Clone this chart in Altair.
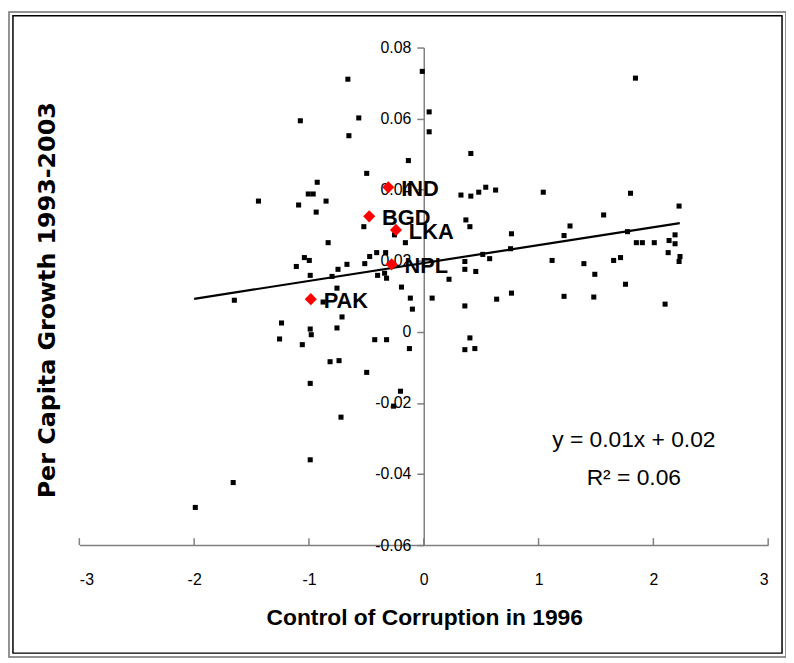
import altair as alt
import pandas as pd

# Scatter points: Control of Corruption 1996 (x) vs per capita growth 1993-2003 (y)
corr = [-1.99, -1.66, -1.65, -1.44, -1.075, -1.09, -1.006, -0.963, -1.11, -1.04,
        -0.997, -0.989, -1.239, -1.256, -1.058, -0.989, -0.980, -0.989, -0.989, -0.816,
        -0.738, -0.721, -0.497, -0.203, -0.263, -0.125, -0.427, -0.324, -0.712, -0.756,
        -0.877, -0.756, -0.194, -0.117, -0.099, -0.799, -0.402, -0.341, -0.324, -0.747,
        -0.669, -0.514, -0.471, -0.410, -0.332, -0.833, -0.160, -0.255, -0.522, -0.661,
        -0.566, -0.652, -0.134, -0.497, -0.928, -0.851, -0.937, -0.013, 0.047, 0.047,
        0.410, 0.324, 0.410, 0.479, 0.540, 0.626, 1.041, 0.367, 0.402, 0.764,
        0.756, 0.514, 0.574, 0.358, 0.358, 0.453, 0.220, 0.073, 0.635, 0.764,
        0.358, 0.402, 0.358, 0.445, 1.844, 1.801, 2.224, 1.567, 1.274, 1.222,
        1.775, 2.189, 1.852, 1.904, 2.008, 2.137, 2.189, 2.129, 2.232, 2.224,
        1.118, 1.395, 1.654, 1.714, 1.490, 1.757, 1.222, 1.481, 2.102]
growth = [-0.0494, -0.0424, 0.0089, 0.0368, 0.0594, 0.0357, 0.0388, 0.0388, 0.0184, 0.0209,
          0.0201, 0.0159, 0.0025, -0.0020, -0.0036, 0.0008, -0.0008, -0.0145, -0.0360, -0.0084,
          -0.0081, -0.0240, -0.0114, -0.0167, -0.0209, -0.0047, -0.0022, -0.0022, 0.0042, 0.0011,
          0.0084, 0.0123, 0.0126, 0.0095, 0.0064, 0.0156, 0.0159, 0.0165, 0.0151, 0.0176,
          0.0190, 0.0192, 0.0212, 0.0223, 0.0223, 0.0251, 0.0251, 0.0273, 0.0296, 0.0711,
          0.0602, 0.0552, 0.0482, 0.0446, 0.0421, 0.0368, 0.0337, 0.0733, 0.0619, 0.0563,
          0.0502, 0.0385, 0.0382, 0.0393, 0.0407, 0.0399, 0.0393, 0.0315, 0.0296, 0.0276,
          0.0234, 0.0218, 0.0206, 0.0198, 0.0176, 0.0170, 0.0148, 0.0095, 0.0092, 0.0109,
          0.0073, -0.0017, -0.0050, -0.0047, 0.0714, 0.0390, 0.0354, 0.0329, 0.0298, 0.0271,
          0.0282, 0.0273, 0.0251, 0.0251, 0.0251, 0.0257, 0.0248, 0.0223, 0.0212, 0.0198,
          0.0201, 0.0192, 0.0201, 0.0209, 0.0162, 0.0134, 0.0100, 0.0098, 0.0078]

# South Asian countries (red diamonds)
sa_codes = ["IND", "BGD", "LKA", "NPL", "PAK"]
sa_corr = [-0.309, -0.475, -0.242, -0.280, -0.984]
sa_growth = [0.0407, 0.0325, 0.0287, 0.0190, 0.0092]

# Linear trend line end points
trend_x = [-2.0, 2.23]
trend_y = [0.0093, 0.0306]

# Axis ticks
x_ticks = [-3, -2, -1, 0, 1, 2, 3]
y_ticks = [-0.06, -0.04, -0.02, 0, 0.02, 0.04, 0.06, 0.08]

# Equation annotation
eq_text = ["y = 0.01x + 0.02", "R\u00b2 = 0.06"]
eq_x = [1.83, 1.83]
eq_y = [-0.0305, -0.0410]

x_title = "Control of Corruption in 1996"
y_title = "Per Capita Growth 1993-2003"

FONT = "Liberation Sans, Arial, sans-serif"
AXIS_GREY = "#808080"

xs = alt.Scale(domain=[-3, 3], nice=False, zero=False)
ys = alt.Scale(domain=[-0.06, 0.08], nice=False, zero=False)

xaxis = alt.Axis(
    values=x_ticks, ticks=False, grid=False, domainColor=AXIS_GREY, domainWidth=1.5,
    labelFont=FONT, labelFontSize=16, labelColor="black", labelPadding=27,
    labelExpr="(datum.value < 0 ? '-' : '') + format(abs(datum.value), 'd')",
    title=None)
yaxis = alt.Axis(
    values=y_ticks, grid=False, offset=-347.5, domainColor=AXIS_GREY, domainWidth=1.5,
    tickColor=AXIS_GREY, tickSize=7, tickWidth=1.5,
    labelFont=FONT, labelFontSize=16, labelColor="black", labelPadding=6,
    labelExpr="datum.value == 0 ? '0' : (datum.value < 0 ? '-' : '') + format(abs(datum.value), '.2f')",
    title=None)

X = alt.X("x:Q", scale=xs, axis=xaxis)
Y = alt.Y("y:Q", scale=ys, axis=yaxis)

pts = pd.DataFrame({"x": corr, "y": growth})
sa = pd.DataFrame({"x": sa_corr, "y": sa_growth, "code": sa_codes})
trend = pd.DataFrame({"x": trend_x, "y": trend_y})
xt = pd.DataFrame({"x": x_ticks})
eq = pd.DataFrame({"x": eq_x, "y": eq_y, "t": eq_text})
one = pd.DataFrame({"k": [0]})

points = alt.Chart(pts).mark_square(size=26, color="black", opacity=1).encode(x=X, y=Y)

xticks = alt.Chart(xt).mark_rule(color=AXIS_GREY, strokeWidth=1.5).encode(
    x=X, y=alt.value(495), y2=alt.value(502))

line = alt.Chart(trend).mark_line(color="black", strokeWidth=2.2).encode(x=X, y=Y)

diamonds = alt.Chart(sa).mark_point(shape="diamond", filled=True, size=150,
                                     color="#FF0000", opacity=1).encode(x=X, y=Y)

labels = alt.Chart(sa).mark_text(align="left", baseline="middle", dx=13, dy=2,
                                 font=FONT, fontWeight="bold",
                                 fontSize=22, color="black").encode(
    x=X, y=Y, text="code:N")

eqtext = alt.Chart(eq).mark_text(align="center", baseline="middle",
                                 font=FONT, fontSize=23, color="black").encode(
    x=X, y=Y, text="t:N")

xtitle = alt.Chart(one).mark_text(align="center", baseline="middle",
                                  font=FONT, fontWeight="bold",
                                  fontSize=23, color="black").encode(
    x=alt.value(348.5), y=alt.value(576), text=alt.value(x_title))

ytitle = alt.Chart(one).mark_text(align="center", baseline="middle", angle=270,
                                  font="DejaVu Sans", fontWeight="bold",
                                  fontSize=24, color="black").encode(
    x=alt.value(-32), y=alt.value(255), text=alt.value(y_title))

outer = alt.Chart(one).mark_rect(filled=False, stroke="#707070", strokeWidth=1.5).encode(
    x=alt.value(-71), x2=alt.value(713), y=alt.value(-36), y2=alt.value(615))
inner = alt.Chart(one).mark_rect(filled=False, stroke="black", strokeWidth=1.5).encode(
    x=alt.value(-67), x2=alt.value(709), y=alt.value(-32), y2=alt.value(611))

chart = alt.layer(points, xticks, line, diamonds, labels, eqtext,
                  xtitle, ytitle, outer, inner).properties(
    width=695, height=502,
    autosize=alt.AutoSizeParams(type="none"),
    padding={"left": 72, "top": 37, "right": 18, "bottom": 111},
).configure_view(strokeWidth=0)

chart.save("out.html", embed_options={"renderer": "svg", "actions": False})
